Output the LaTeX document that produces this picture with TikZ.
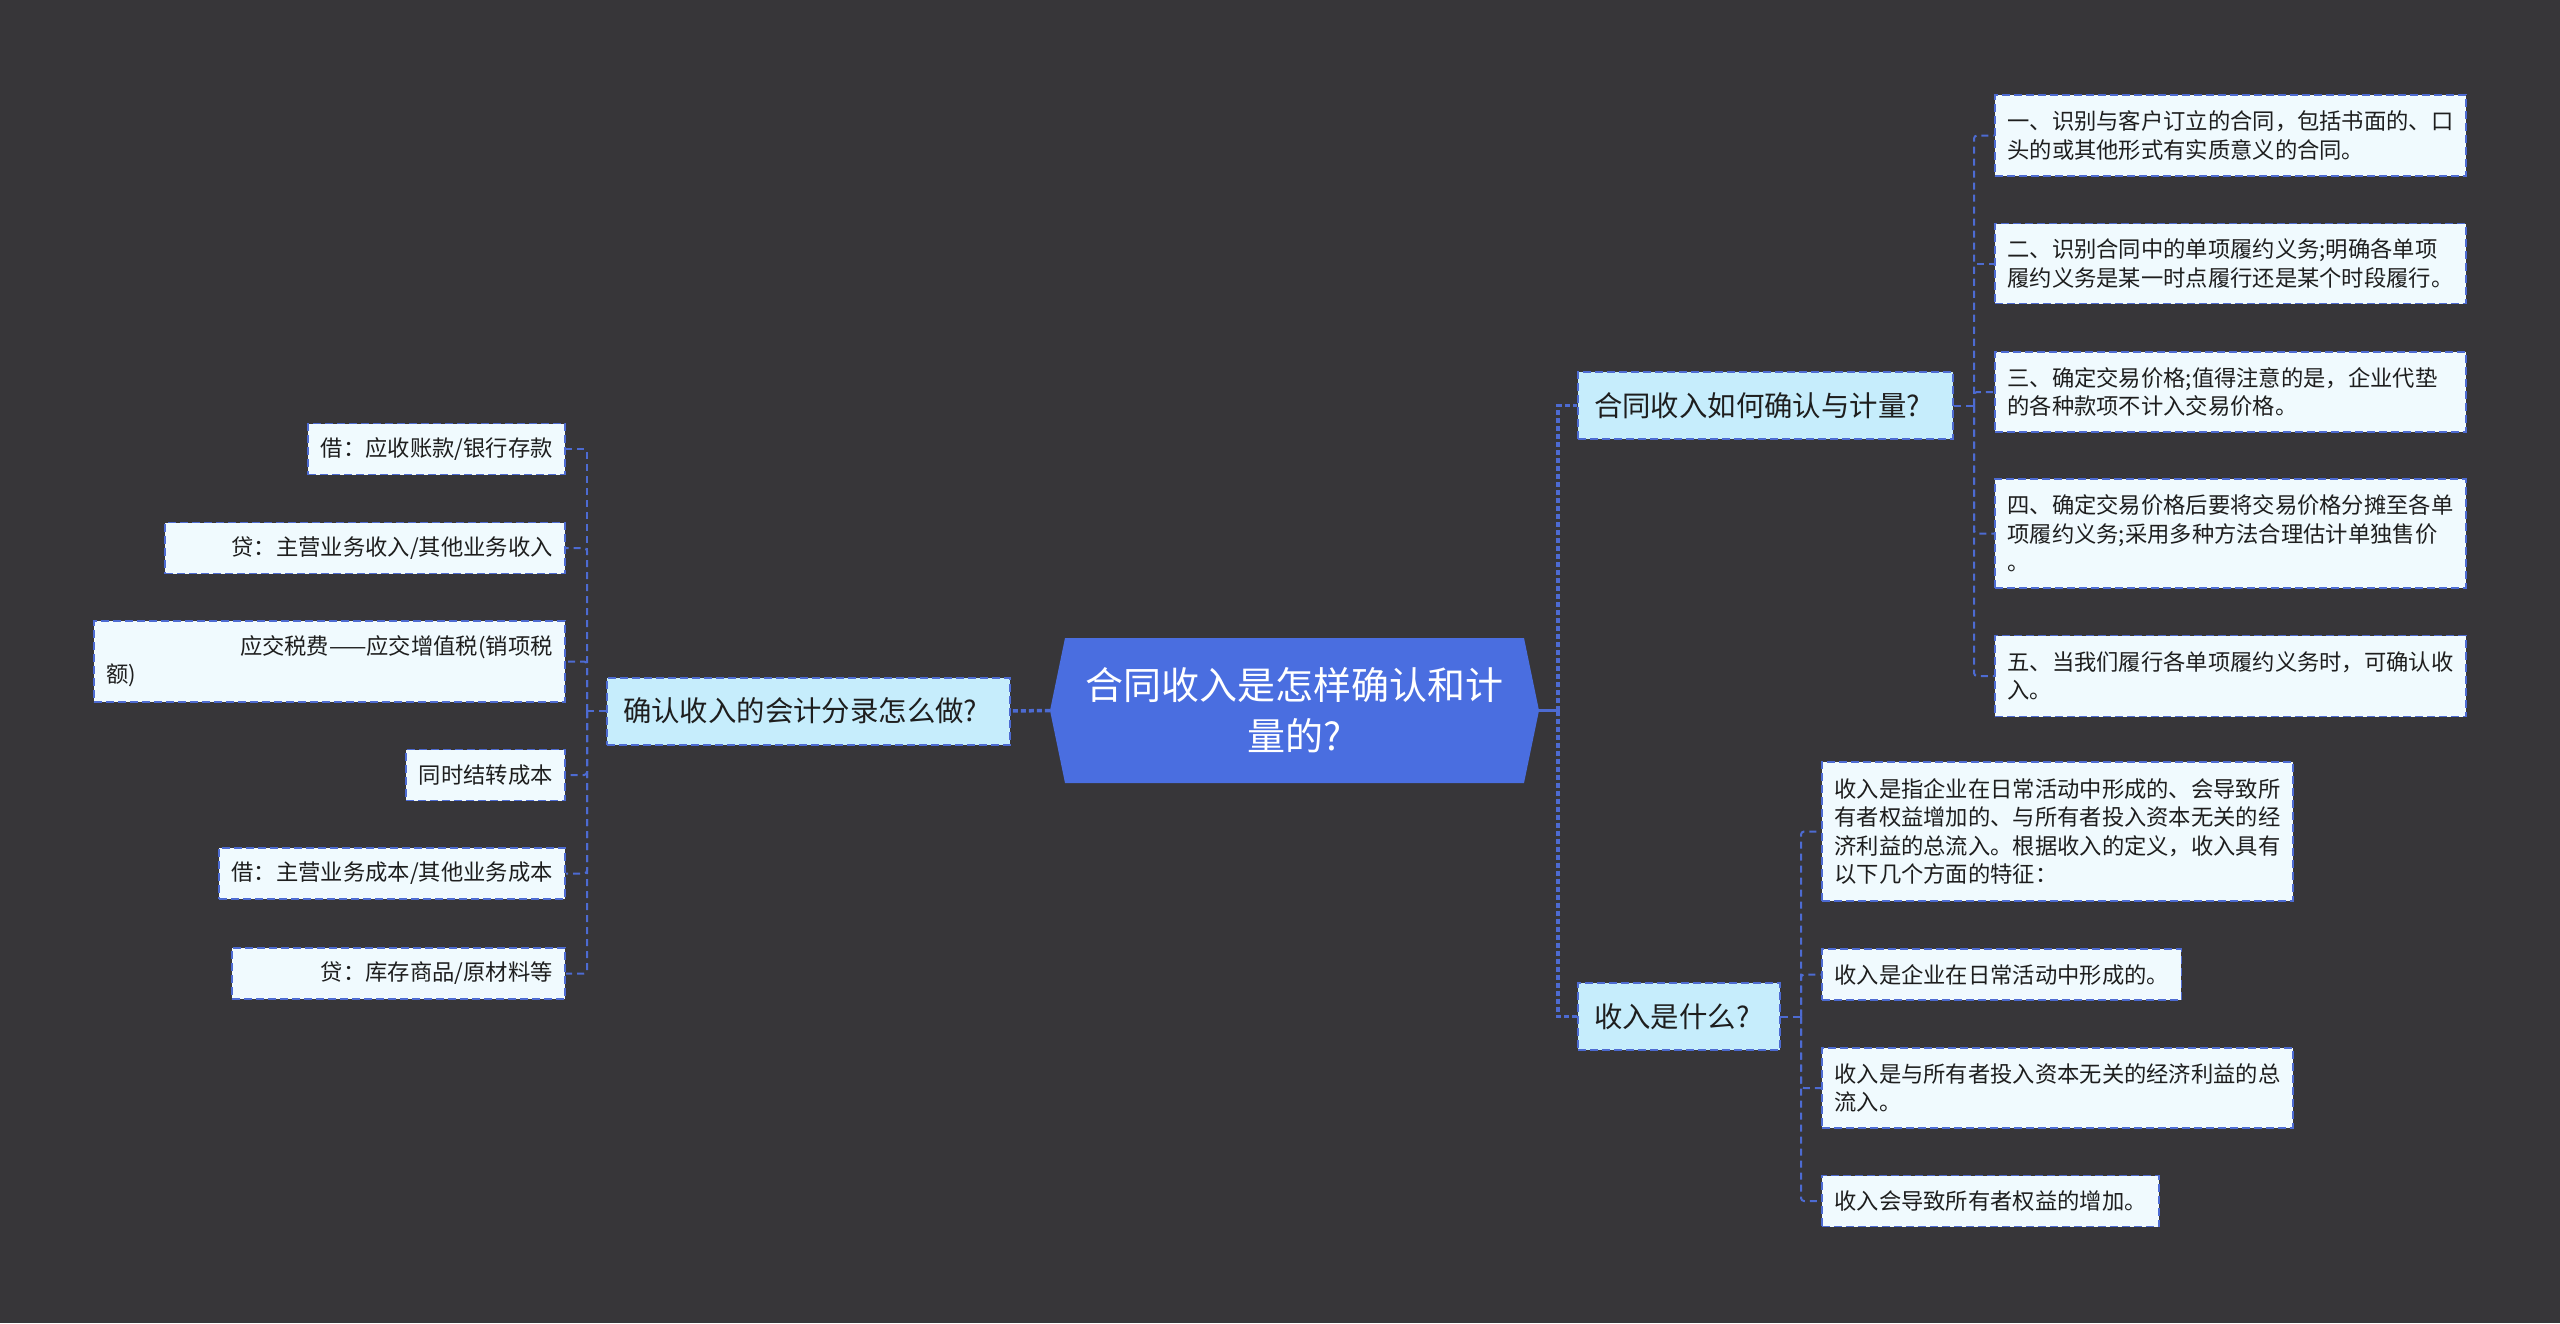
\documentclass[tikz,border=0pt]{standalone}
\usepackage{fontspec}
\setmainfont{Noto Sans CJK SC}
\definecolor{bg}{HTML}{373639}
\definecolor{mainblue}{HTML}{4A6EE0}
\definecolor{topicfill}{HTML}{C6EDFC}
\definecolor{leaffill}{HTML}{F0FAFE}
\definecolor{bordc}{HTML}{4D6BD2}
\definecolor{linkc}{HTML}{4D6BD2}
\definecolor{txt}{HTML}{1E1E1E}
\tikzset{
  centertext/.style={inner sep=0pt, minimum width=489pt, minimum height=145pt, align=center, text=white, font=\fontsize{38}{51}\selectfont},
  topic/.style={draw=bordc, fill=topicfill, line width=2pt, dash pattern=on 8pt off 4pt, inner xsep=16pt, inner ysep=0pt, minimum height=67pt, align=left, text=txt, font=\fontsize{28.4}{34}\selectfont},
  leaf/.style={draw=bordc, fill=leaffill, line width=1.8pt, dash pattern=on 8pt off 4pt, inner xsep=12.5pt, inner ysep=0pt, minimum height=51pt, align=left, text=txt, font=\fontsize{22.3}{28.3}\selectfont},
  leafwide/.style={leaf, text width=446pt},
  mainlink/.style={draw=linkc, line width=3.5pt, dash pattern=on 5pt off 3pt},
  mainsolid/.style={draw=linkc, line width=3pt},
  link/.style={draw=linkc, line width=2pt, dash pattern=on 7pt off 5pt, rounded corners=3pt}
}
\begin{document}
\begin{tikzpicture}[x=1pt,y=-1pt]
\fill[bg] (0,0) rectangle (2560,1323);
\useasboundingbox (0,0) rectangle (2560,1323);

% central topic
\fill[mainblue] (1050,710.5) -- (1065,638) -- (1524,638) -- (1539,710.5) -- (1524,783) -- (1065,783) -- cycle;
\node[centertext] (c) at (1294.5,710.5) {合同收入是怎样确认和计\\量的?};

% level 1
\node[topic, text width=371pt] (L) at (808.5,711) {确认收入的会计分录怎么做?};
\node[topic, text width=343pt] (R1) at (1765.5,405.5) {合同收入如何确认与计量?};
\node[topic, text width=170pt] (R2) at (1679,1016.5) {收入是什么?};

% left leaves
\node[leaf, anchor=east] (a1) at (566,449) {借：应收账款/银行存款};
\node[leaf, anchor=east, text width=375pt, align=right] (a2) at (566,548) {贷：主营业务收入/其他业务收入};
\node[leafwide, anchor=east, minimum height=81pt] (a3) at (566,661.5) {\hfill 应交税费——应交增值税(销项税\\额)};
\node[leaf, anchor=east] (a4) at (566,775) {同时结转成本};
\node[leaf, anchor=east] (a5) at (566,873.5) {借：主营业务成本/其他业务成本};
\node[leaf, anchor=east, text width=308pt, align=right] (a6) at (566,973.5) {贷：库存商品/原材料等};

% right leaves of R1
\node[leafwide, anchor=west, minimum height=81pt] (b1) at (1994,135.5) {一、识别与客户订立的合同，包括书面的、口\\头的或其他形式有实质意义的合同。};
\node[leafwide, anchor=west, minimum height=80pt] (b2) at (1994,263.5) {二、识别合同中的单项履约义务;明确各单项\\履约义务是某一时点履行还是某个时段履行。};
\node[leafwide, anchor=west, minimum height=80pt] (b3) at (1994,392) {三、确定交易价格;值得注意的是，企业代垫\\的各种款项不计入交易价格。};
\node[leafwide, anchor=west, minimum height=109pt] (b4) at (1994,533.5) {四、确定交易价格后要将交易价格分摊至各单\\项履约义务;采用多种方法合理估计单独售价\\。};
\node[leafwide, anchor=west, minimum height=81pt] (b5) at (1994,676) {五、当我们履行各单项履约义务时，可确认收\\入。};

% right leaves of R2
\node[leafwide, anchor=west, minimum height=139pt] (c1) at (1821,831.5) {收入是指企业在日常活动中形成的、会导致所\\有者权益增加的、与所有者投入资本无关的经\\济利益的总流入。根据收入的定义，收入具有\\以下几个方面的特征：};
\node[leaf, anchor=west] (c2) at (1821,974.5) {收入是企业在日常活动中形成的。};
\node[leafwide, anchor=west, minimum height=80pt] (c3) at (1821,1088) {收入是与所有者投入资本无关的经济利益的总\\流入。};
\node[leaf, anchor=west] (c4) at (1821,1201) {收入会导致所有者权益的增加。};

% connectors from centre
\coordinate (sp) at (1558,710.5);
\draw[mainsolid] (c.east) -- (sp);
\draw[mainlink] (sp) |- (R1.west);
\draw[mainlink] (sp) |- (R2.west);
\draw[mainlink] (c.west) -- (L.east);

% left branch
\coordinate (sl) at (587,711);
\draw[link] (L.west) -- (sl);
\foreach \n in {a1,a2,a3,a4,a5,a6} { \draw[link] (sl) |- (\n.east); }

% R1 branch
\coordinate (s1) at (1974,405.5);
\draw[link] (R1.east) -- (s1);
\foreach \n in {b1,b2,b3,b4,b5} { \draw[link] (s1) |- (\n.west); }

% R2 branch
\coordinate (s2) at (1801,1016.5);
\draw[link] (R2.east) -- (s2);
\foreach \n in {c1,c2,c3,c4} { \draw[link] (s2) |- (\n.west); }
\end{tikzpicture}
\end{document}
